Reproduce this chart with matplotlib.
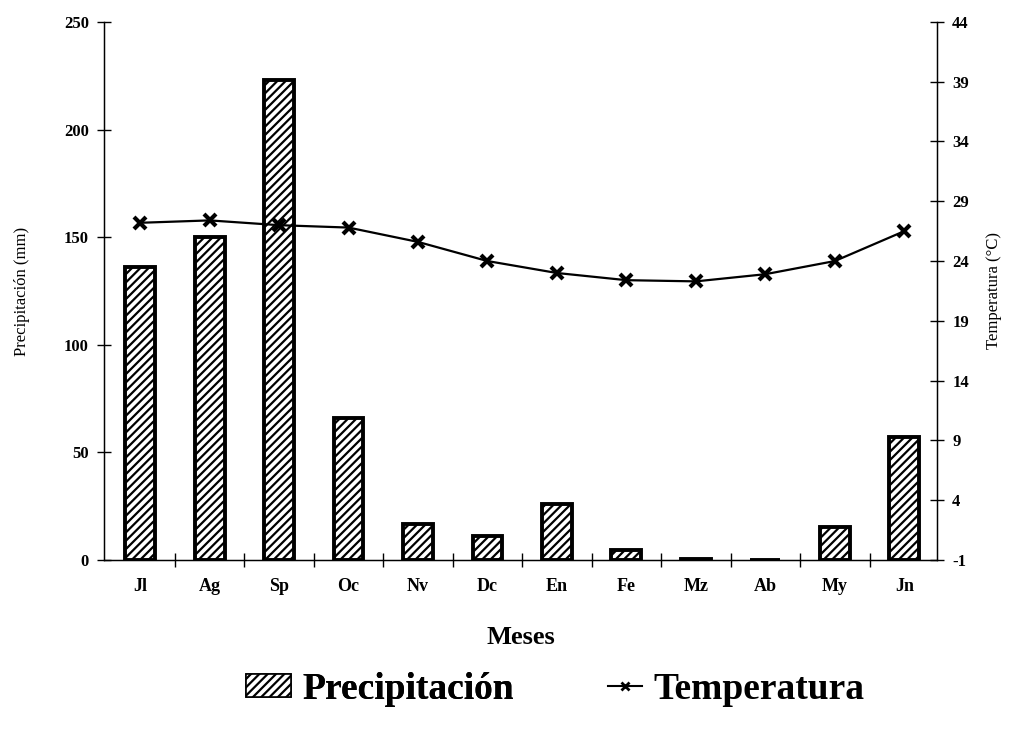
import matplotlib
matplotlib.use("Agg")
import matplotlib.pyplot as plt
from matplotlib.patches import Patch
from matplotlib.lines import Line2D
import numpy as np

months = ["Jl", "Ag", "Sp", "Oc", "Nv", "Dc", "En", "Fe", "Mz", "Ab", "My", "Jn"]
precip = [136, 150, 223, 66, 16.5, 11, 26, 4.5, 0.5, 0, 15.5, 57]
temp = [27.2, 27.4, 27.0, 26.8, 25.6, 24.0, 23.0, 22.4, 22.3, 22.9, 24.0, 26.5]
left_ticks = [0, 50, 100, 150, 200, 250]
right_ticks = [-1, 4, 9, 14, 19, 24, 29, 34, 39, 44]

serif = "Liberation Serif"
plt.rcParams["hatch.linewidth"] = 1.6

fig = plt.figure(figsize=(10.12, 7.31), dpi=100)
ax = fig.add_axes([0.1028, 0.234, 0.823, 0.736])
x = np.arange(len(months))

ax.bar(x, precip, width=0.43, facecolor="white", edgecolor="black",
       linewidth=2.8, hatch="////", zorder=2)
ax.set_xlim(-0.52, 11.47)
ax.set_ylim(0, 250)
ax.set_yticks(left_ticks)
ax.set_yticklabels([str(t) for t in left_ticks], fontfamily=serif,
                   fontweight="bold", fontsize=12)
ax.tick_params(axis="y", direction="inout", length=10, width=1, pad=6)
ax.set_xticks(x)
ax.set_xticklabels(months, fontfamily=serif, fontweight="bold", fontsize=13)
ax.tick_params(axis="x", which="major", length=0, pad=13)
ax.set_xticks(np.arange(0.5, 11.5, 1.0), minor=True)
ax.tick_params(axis="x", which="minor", direction="inout", length=10, width=1)
ax.spines["top"].set_visible(False)
for s in ("left", "right", "bottom"):
    ax.spines[s].set_linewidth(1.0)
ax.set_ylabel("Precipitación (mm)", fontfamily=serif, fontsize=12, labelpad=24)
ax.set_xlabel("Meses", fontfamily=serif, fontweight="bold", fontsize=19, labelpad=22)

ax2 = ax.twinx()
ax2.plot(x, temp, color="black", linewidth=1.6, marker="x", markersize=8,
         markeredgewidth=3, zorder=3)
ax2.set_ylim(-1, 44)
ax2.set_yticks(right_ticks)
ax2.set_yticklabels([str(t) for t in right_ticks], fontfamily=serif,
                    fontweight="bold", fontsize=12)
ax2.tick_params(axis="y", direction="inout", length=10, width=1, pad=6)
ax2.spines["top"].set_visible(False)
ax2.set_ylabel("Temperatura (°C)", fontfamily=serif, fontsize=12, labelpad=12)

prop = {"family": serif, "weight": "bold", "size": 27}
leg1 = fig.legend([Patch(facecolor="white", edgecolor="black", hatch="////", linewidth=1.2)],
                  ["Precipitación"], loc="center left",
                  bbox_to_anchor=(0.243, 0.057), frameon=False, prop=prop,
                  handlelength=1.2, handleheight=0.55, handletextpad=0.3,
                  borderpad=0, borderaxespad=0)
fig.add_artist(leg1)
fig.legend([Line2D([0], [0], color="black", marker="x", markersize=6,
                   markeredgewidth=2, linewidth=1.5)],
           ["Temperatura"], loc="center left",
           bbox_to_anchor=(0.601, 0.057), frameon=False, prop=prop,
           handlelength=0.9, handletextpad=0.3, borderpad=0, borderaxespad=0)

fig.savefig("out.png", dpi=100)
